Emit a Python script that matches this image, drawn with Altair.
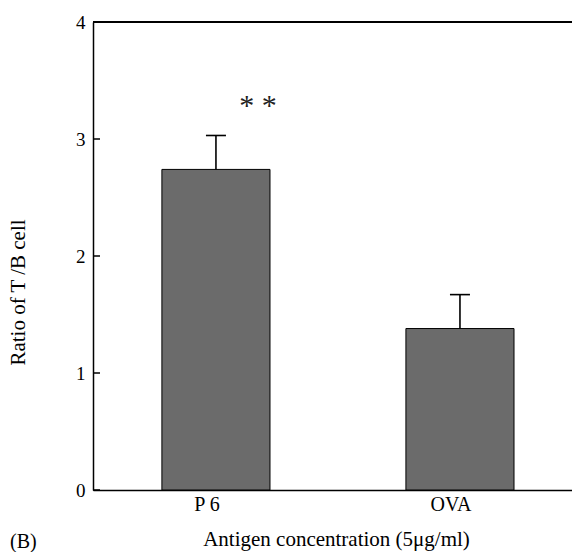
import altair as alt
import pandas as pd

# T/B cell ratio after stimulation with each antigen (mean and SEM)
antigens = ["P 6", "OVA"]
ratios = [2.74, 1.38]
sem = [0.29, 0.29]
y_ticks = [0, 1, 2, 3, 4]
sig_label = "* *"
sig_level = 3.28
panel_tag = "(B)"

SERIF = "Liberation Serif"
W, H = 479, 468

bars_df = pd.DataFrame({"antigen": antigens, "ratio": ratios, "sem": sem})
bars_df["upper"] = bars_df["ratio"] + bars_df["sem"]
ticks_df = pd.DataFrame({"tick": y_ticks})
sig_df = pd.DataFrame({"antigen": [antigens[0]], "level": [sig_level], "label": [sig_label]})
tag_df = pd.DataFrame({"tag": [panel_tag]})

x_scale = alt.Scale(domain=antigens, paddingInner=0.557, paddingOuter=0.26, align=0.543)
y_scale = alt.Scale(domain=[0, 4], nice=False, zero=True)

x_axis = alt.Axis(
    title="Antigen concentration (5μg/ml)",
    labelAngle=0, ticks=False, grid=False,
    domainColor="black", domainWidth=1.5,
    labelFont=SERIF, labelFontSize=20, labelColor="black",
    labelPadding=4, labelOffset=-9,
    titleFont=SERIF, titleFontSize=21, titleFontWeight="normal", titleColor="black",
    titleX=243, titleY=55, titleBaseline="alphabetic",
)
y_axis = alt.Axis(
    title="Ratio of T /B cell", values=y_ticks, format="d",
    ticks=False, grid=False,
    domainColor="black", domainWidth=1.5,
    labelFont=SERIF, labelFontSize=19, labelColor="black", labelPadding=8,
    titleFont=SERIF, titleFontSize=21, titleFontWeight="normal", titleColor="black",
    titleX=-69, titleY=270, titleBaseline="alphabetic",
)

x_enc = alt.X("antigen:N", scale=x_scale, sort=antigens, axis=x_axis)

bars = alt.Chart(bars_df).mark_bar(color="#6b6b6b", stroke="black", strokeWidth=1).encode(
    x=x_enc,
    y=alt.Y("ratio:Q", scale=y_scale, axis=y_axis),
)

stems = alt.Chart(bars_df).mark_rule(color="black", strokeWidth=1.6).encode(
    x=alt.X("antigen:N", scale=x_scale, sort=antigens),
    y="ratio:Q",
    y2="upper:Q",
)

caps = alt.Chart(bars_df).mark_tick(color="black", thickness=1.6, size=20, opacity=1).encode(
    x=alt.X("antigen:N", scale=x_scale, sort=antigens),
    y="upper:Q",
)

# inward tick marks on the left axis
inner_ticks = alt.Chart(ticks_df).mark_rule(color="black", strokeWidth=1.5).encode(
    y="tick:Q",
    x=alt.value(0),
    x2=alt.value(7),
)

# top frame line
top_line = alt.Chart(ticks_df).mark_rule(color="black", strokeWidth=1.5).encode(
    y=alt.datum(4),
    x=alt.value(0),
    x2=alt.value(W),
)

sig = alt.Chart(sig_df).mark_text(
    font=SERIF, fontSize=30, color="#222222", dx=42, baseline="middle", align="center"
).encode(
    x=alt.X("antigen:N", scale=x_scale, sort=antigens),
    y="level:Q",
    text="label:N",
)

tag = alt.Chart(tag_df).mark_text(
    font=SERIF, fontSize=20, color="black", align="left", baseline="alphabetic"
).encode(
    x=alt.value(-83),
    y=alt.value(526),
    text="tag:N",
)

chart = (
    alt.layer(bars, stems, caps, inner_ticks, top_line, sig, tag)
    .properties(
        width=W, height=H,
        autosize=alt.AutoSizeParams(type="none"),
        padding={"left": 93, "top": 22, "right": 0, "bottom": 62},
        background="white",
    )
    .configure_view(stroke=None)
)

chart.save("out.html", embed_options={"renderer": "svg", "actions": False})
